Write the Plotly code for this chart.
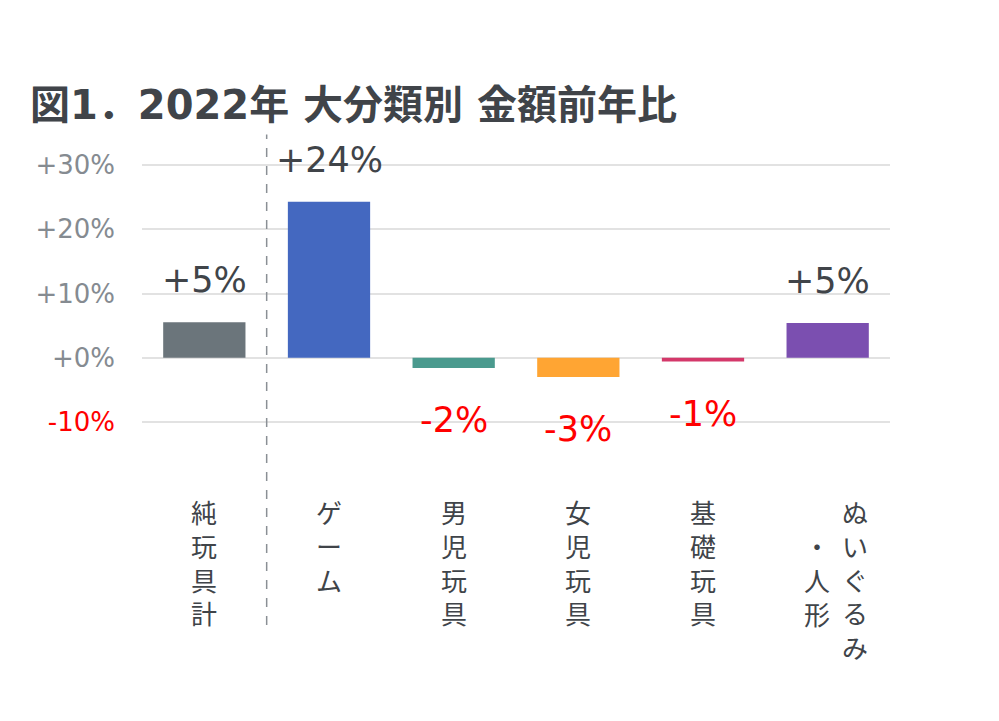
import plotly.graph_objects as go

categories = ["純玩具計", "ゲーム", "男児玩具", "女児玩具", "基礎玩具", "ぬいぐるみ・人形"]
values = [5.5, 24.3, -1.6, -3.0, -0.6, 5.4]
value_labels = ["+5%", "+24%", "-2%", "-3%", "-1%", "+5%"]
bar_colors = ["#6b757b", "#4468c0", "#4a9a8e", "#ffa533", "#d4386a", "#7b4fb0"]
tick_vals = [-10, 0, 10, 20, 30]
tick_labels = ["-10%", "+0%", "+10%", "+20%", "+30%"]

FONT = "Noto Sans CJK JP"
LATIN = "DejaVu Sans"
MIXED = "DejaVu Sans, Noto Sans CJK JP"
DARK = "#404449"
GRAY = "#858b91"
RED = "#ff0000"

x = list(range(len(categories)))

fig = go.Figure()
fig.add_trace(go.Bar(
    x=x, y=values, width=0.66,
    marker=dict(color=bar_colors, line=dict(width=0)),
    hoverinfo="skip",
))

# value labels above / below bars
for xi, v, lab in zip(x, values, value_labels):
    pos = v >= 0
    fig.add_annotation(
        x=xi, y=v, xref="x", yref="y", text=lab, showarrow=False,
        yanchor="bottom" if pos else "top",
        yshift=20 if pos else -30,
        font=dict(family=LATIN, size=35, color=DARK if pos else RED),
    )

# vertical category labels (one char per line, columns read right to left)
size = 26
step = size * 1.3
for xi, name in zip(x, categories):
    if "・" in name:
        head, tail = name.split("・")
        cols = [(head, 27, 0), ("・" + tail, -11, 1)]
    else:
        cols = [(name, 0, 0)]
    for text, dx, offset in cols:
        fig.add_annotation(
            x=xi, y=0, xref="x", yref="paper", text="<br>".join(text), showarrow=False,
            yanchor="top", xshift=dx, yshift=-66 - offset * step,
            font=dict(family=FONT, size=size, color=DARK),
        )

# dashed divider between total and breakdown
fig.add_shape(type="line", xref="x", yref="paper", x0=0.5, x1=0.5, y0=-0.76, y1=1.105,
              line=dict(color="#8a8f95", width=1.5, dash="dash"))

fig.update_layout(
    width=999, height=721,
    margin=dict(l=134, r=117, t=154, b=304),
    paper_bgcolor="white", plot_bgcolor="white",
    showlegend=False,
    bargap=0.34,
    title=dict(
        text="<b>図1．2022年 大分類別 金額前年比</b>",
        x=22 / 999, xanchor="left", y=1 - 97 / 721, yanchor="middle",
        font=dict(family=MIXED, size=40, color=DARK),
    ),
)
fig.update_xaxes(range=[-0.5, 5.5], showticklabels=False, showgrid=False,
                 zeroline=False, showline=False)
fig.update_yaxes(
    range=[-10.5, 30.5], tickvals=tick_vals,
    ticktext=[f'<span style="color:{RED if t < 0 else GRAY}">{lab}</span>'
              for t, lab in zip(tick_vals, tick_labels)],
    tickfont=dict(family=LATIN, size=26, color=GRAY),
    ticklabelstandoff=26,
    showgrid=True, gridcolor="#e2e2e2", gridwidth=2,
    zeroline=True, zerolinecolor="#e2e2e2", zerolinewidth=2,
    ticks="", ticklen=0, showline=False,
)

fig.write_html("out.html")
